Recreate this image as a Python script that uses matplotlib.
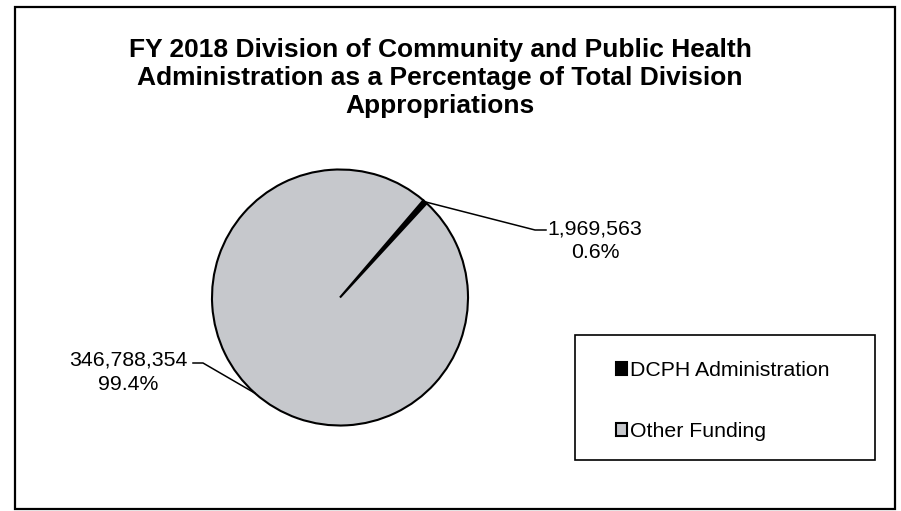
import numpy as np
import matplotlib
matplotlib.use("Agg")
import matplotlib.pyplot as plt
from matplotlib.patches import Rectangle

plt.rcParams['font.family'] = ['Liberation Sans', 'DejaVu Sans']

# ── data ────────────────────────────────────────
labels = ["DCPH Administration", "Other Funding"]
amounts = [1969563, 346788354]
pct_labels = ["0.6%", "99.4%"]
colors = ["#000000", "#c6c8cc"]
title = ("FY 2018 Division of Community and Public Health\n"
         "Administration as a Percentage of Total Division\n"
         "Appropriations")

# ── figure (1 data unit = 1 pixel, y up) ────────
W, H = 901, 511
fig = plt.figure(figsize=(W / 100, H / 100), dpi=100)
ax = fig.add_axes([0, 0, 1, 1])

cx, cy, r = 340, 213.5, 128
wedges, _ = ax.pie(amounts, colors=colors, startangle=49.4, counterclock=False,
                   center=(cx, cy), radius=r,
                   wedgeprops=dict(edgecolor="black", linewidth=1.5))
ax.set_xlim(0, W)
ax.set_ylim(0, H)
ax.set_aspect("auto")
ax.axis("off")

# outer frame
ax.add_patch(Rectangle((15, 2), 880, 502, fill=False, edgecolor="black",
                       linewidth=1.6, zorder=5))

ax.text(440, 433, title, ha="center", va="center", fontsize=19,
        fontweight="bold", linespacing=1.2)

# ── data labels with leader lines ───────────────
def edge_point(w):
    mid = np.deg2rad((w.theta1 + w.theta2) / 2)
    return cx + r * np.cos(mid), cy + r * np.sin(mid)

# DCPH slice (right side)
ex, ey = edge_point(wedges[0])
ax.plot([ex, 535, 546], [ey, 281, 281], color="black", linewidth=1.1)
ax.text(595, 270, f"{amounts[0]:,}\n{pct_labels[0]}", ha="center",
        va="center", fontsize=15.3, linespacing=1.3)

# Other slice (left side)
ex, ey = edge_point(wedges[1])
ax.plot([ex, 203, 193], [ey, 148, 148], color="black", linewidth=1.1)
ax.text(128, 139, f"{amounts[1]:,}\n{pct_labels[1]}", ha="center",
        va="center", fontsize=15.3, linespacing=1.35)

# ── legend ──────────────────────────────────────
ax.add_patch(Rectangle((575, 51), 300, 125, fill=False, edgecolor="black",
                       linewidth=1.2, zorder=5))
ax.legend(wedges, labels, loc="center left", frameon=False,
          bbox_to_anchor=(616 / W, 110 / H), bbox_transform=fig.transFigure,
          fontsize=15.3, handlelength=0.52, handleheight=0.52,
          handletextpad=0.12, labelspacing=1.98, borderpad=0, borderaxespad=0)

fig.savefig("out.png", dpi=100, facecolor="white")
